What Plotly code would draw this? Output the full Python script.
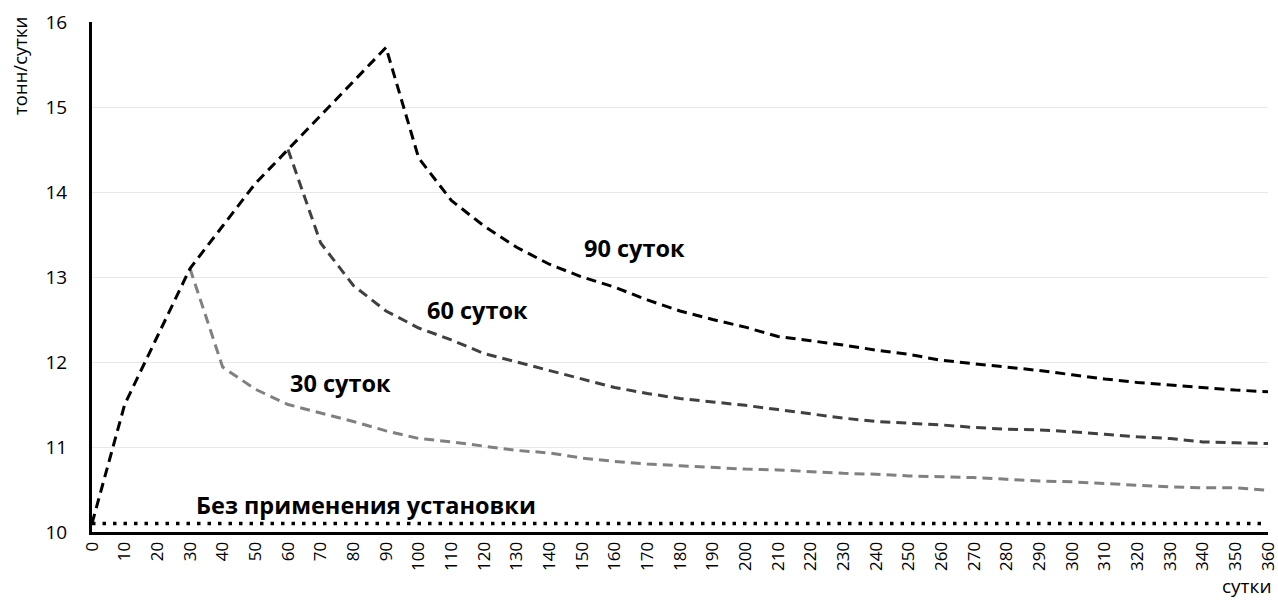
import plotly.graph_objects as go

days = list(range(0, 370, 10))
x_ticks = [str(d) for d in days]

# 90-day application
d90 = list(range(0, 370, 10))
v90 = [10.1, 11.5, 12.3, 13.1, 13.6, 14.1, 14.5, 14.9, 15.3, 15.7,
       14.4, 13.9, 13.6, 13.35, 13.15, 13.0, 12.88, 12.73, 12.6, 12.5,
       12.41, 12.3, 12.25, 12.2, 12.14, 12.09, 12.02, 11.98, 11.94, 11.9,
       11.85, 11.8, 11.76, 11.73, 11.7, 11.67, 11.65]

# 60-day application
d60 = list(range(60, 370, 10))
v60 = [14.5, 13.4, 12.9, 12.6, 12.4, 12.26, 12.1, 12.0, 11.9, 11.8,
       11.7, 11.63, 11.57, 11.53, 11.49, 11.44, 11.39, 11.34, 11.3, 11.28,
       11.26, 11.23, 11.21, 11.2, 11.18, 11.15, 11.12, 11.1, 11.06, 11.05, 11.04]

# 30-day application
d30 = list(range(30, 370, 10))
v30 = [13.1, 11.94, 11.68, 11.5, 11.4, 11.3, 11.19, 11.1, 11.06, 11.01,
       10.96, 10.93, 10.87, 10.83, 10.8, 10.78, 10.76, 10.74, 10.73, 10.71,
       10.69, 10.68, 10.66, 10.65, 10.64, 10.62, 10.6, 10.59, 10.57, 10.55,
       10.53, 10.52, 10.52, 10.49]

# baseline
v_base = [10.1] * len(days)

labels = ["90 суток", "60 суток", "30 суток", "Без применения установки"]
label_pos = [(166, 13.34), (118, 12.61), (76, 11.75), (84, 10.32)]

FONT = "Open Sans, DejaVu Sans, sans-serif"

fig = go.Figure()
fig.add_trace(go.Scatter(x=days, y=v_base, mode="lines",
                         line=dict(color="black", width=3.5, dash="3.5px,7px"),
                         showlegend=False, hoverinfo="skip"))
fig.add_trace(go.Scatter(x=d30, y=v30, mode="lines",
                         line=dict(color="#808080", width=3, dash="10px,6px"),
                         showlegend=False))
fig.add_trace(go.Scatter(x=d60, y=v60, mode="lines",
                         line=dict(color="#404040", width=3, dash="10px,6px"),
                         showlegend=False))
fig.add_trace(go.Scatter(x=d90, y=v90, mode="lines",
                         line=dict(color="black", width=3, dash="10px,6px"),
                         showlegend=False))

for t, (lx, ly) in zip(labels, label_pos):
    fig.add_annotation(x=lx, y=ly, text="<b>" + t + "</b>", showarrow=False,
                       xanchor="center", yanchor="middle",
                       font=dict(family=FONT, size=23.5, color="black"))

fig.add_annotation(xref="paper", yref="paper", x=-0.0612, y=1.014,
                   text="тонн/сутки", textangle=-90, showarrow=False,
                   xanchor="center", yanchor="top",
                   font=dict(family=FONT, size=18.5, color="black"))
fig.add_annotation(xref="paper", yref="paper", x=1.004, y=-0.106,
                   text="сутки", showarrow=False,
                   xanchor="right", yanchor="middle",
                   font=dict(family=FONT, size=19, color="black"))

fig.update_layout(
    width=1278, height=601,
    margin=dict(l=92, r=10, t=22, b=69, autoexpand=False),
    paper_bgcolor="white", plot_bgcolor="white",
    xaxis=dict(range=[0, 360], tickmode="array", tickvals=days, ticktext=x_ticks,
               tickangle=-90, showgrid=False, showline=True, linecolor="black",
               linewidth=3, zeroline=False, automargin=False,
               ticklabeloverflow="allow",
               tickfont=dict(family=FONT, size=17, color="black")),
    yaxis=dict(range=[10, 16], dtick=1, showgrid=True, gridcolor="#e8e8e8",
               gridwidth=1, showline=True, linecolor="black", linewidth=3,
               zeroline=False, ticklabelstandoff=18, automargin=False,
               tickfont=dict(family=FONT, size=19, color="black")),
)

fig.write_html("out.html",
               config={"displayModeBar": False},
               post_script="document.body.style.margin='0';document.body.style.overflow='hidden';")
